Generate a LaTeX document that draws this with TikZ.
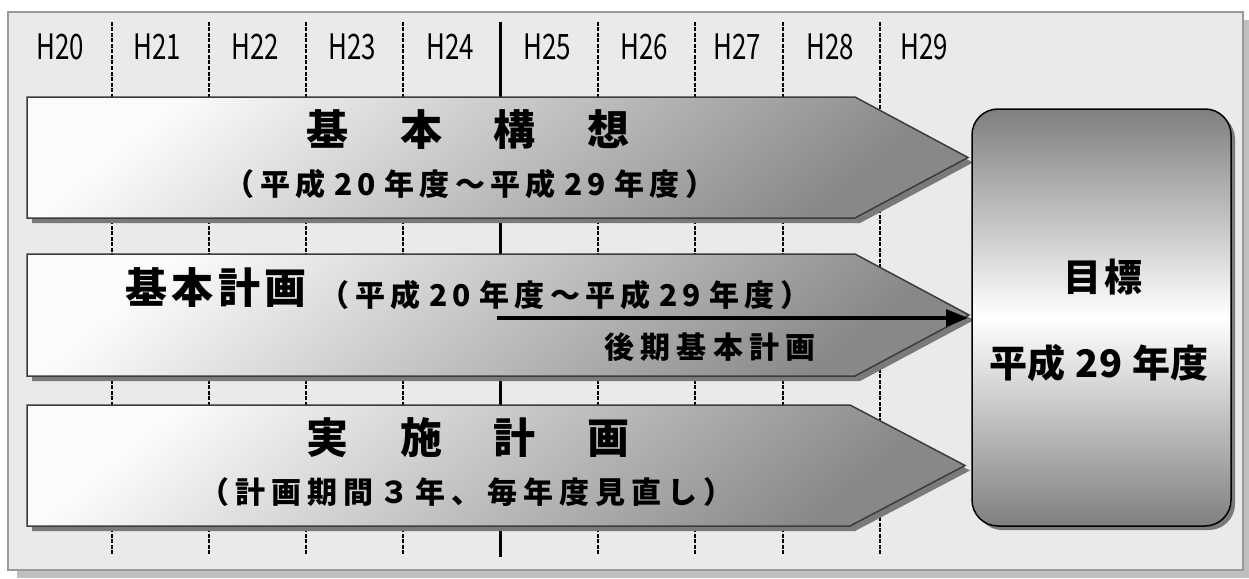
\documentclass[tikz,border=0pt]{standalone}
\usepackage{fontspec}
\newfontfamily\jp{Noto Sans CJK JP}
\newfontfamily\hfont{Noto Sans CJK JP}[FakeStretch=0.74]
\usetikzlibrary{arrows.meta,shadows}
\definecolor{framebg}{HTML}{EAEAEA}
\definecolor{framebd}{HTML}{9A9A9A}
\definecolor{frameshadow}{HTML}{BFBFBF}
\definecolor{bandbd}{HTML}{3C3C3C}
\definecolor{bandlight}{HTML}{FBFBFB}
\definecolor{banddark}{HTML}{888888}
\definecolor{bandshadow}{HTML}{7A7A7A}
\definecolor{goaldark}{HTML}{7F7F7F}
\newcommand\bandshape[4]{(27,#1) -- (#3,#1) -- (#4,{(#1+#2)/2}) -- (#3,#2) -- (27,#2) -- cycle}
\begin{document}
\begin{tikzpicture}[x=1pt,y=-1pt,
  yrlabel/.style={font=\hfont\fontsize{35}{35}\selectfont, inner sep=0pt},
  divider/.style={line width=1.4pt, dash pattern=on 4pt off 1.5pt},
  thickdiv/.style={line width=3pt},
  band/.style={draw=bandbd, line width=1.5pt, shading=axis, top color=bandlight, bottom color=banddark, shading angle=40},
  bshadow/.style={fill=bandshadow},
  bigtitle/.style={font=\jp\bfseries\fontsize{42}{42}\selectfont, inner sep=0pt},
  subtitle/.style={font=\jp\bfseries\fontsize{30}{30}\selectfont\addfontfeatures{LetterSpace=17}, inner sep=0pt},
  goaltext/.style={font=\jp\bfseries\fontsize{38}{38}\selectfont, inner sep=0pt},
  goalbox/.style={draw=black, line width=1.5pt, rounded corners=26pt, top color=goaldark, bottom color=goaldark, middle color=white, minimum width=259pt, minimum height=417pt, inner sep=0pt,
    drop shadow={shadow xshift=4pt, shadow yshift=-4pt, fill=bandshadow, opacity=1}}
]
\useasboundingbox (0,0) rectangle (1249,578);
% outer frame
\fill[frameshadow] (17,20) rectangle (1249,578);
\draw[fill=framebg, draw=framebd, line width=1.5pt] (8,12) rectangle (1243,570);
% dividers
\foreach \x in {112,209,306,403,598,695,783,880}
  \draw[divider] (\x,22) -- (\x,555);
\draw[thickdiv] (500,22) -- (500,557);
% year labels
\foreach \x/\t in {60/H20,157/H21,255/H22,352/H23,450/H24,547/H25,644/H26,737/H27,830/H28,924/H29}
  \node[yrlabel] (lab\t) at (\x,46.5) {\t};
% band 1
\fill[bshadow, shift={(5,5)}] \bandshape{97}{218}{855}{968};
\draw[band] \bandshape{97}{218}{855}{968};
% band 2
\fill[bshadow, shift={(5,5)}] \bandshape{254}{376}{855}{969};
\draw[band] \bandshape{254}{376}{855}{969};
% band 3
\fill[bshadow, shift={(5,5)}] \bandshape{405}{526}{850}{965};
\draw[band] \bandshape{405}{526}{850}{965};
% goal box
\node[goalbox] (goal) at (1101.5,317.5) {};
% texts band 1
\node[bigtitle] (t1) at (468,130) {基\hspace{52pt}本\hspace{52pt}構\hspace{52pt}想};
\node[subtitle] (s1) at (470,184) {（平成\hspace{9pt}20\hspace{9pt}年度～平成\hspace{9pt}29\hspace{9pt}年度）};
% texts band 2
\node[bigtitle, font=\jp\bfseries\fontsize{42}{42}\selectfont\addfontfeatures{LetterSpace=10}] (t2) at (216,288) {基本計画};
\node[subtitle] (s2) at (565,295) {（平成\hspace{9pt}20\hspace{9pt}年度～平成\hspace{9pt}29\hspace{9pt}年度）};
\coordinate (a2start) at (497,318);
\coordinate (a2end) at (968,318);
\draw[line width=3.5pt, -{Triangle[length=22pt,width=17pt]}] (a2start) -- (a2end);
\node[subtitle, font=\jp\bfseries\fontsize{30}{30}\selectfont\addfontfeatures{LetterSpace=21}] (s2b) at (710,347) {後期基本計画};
% texts band 3
\node[bigtitle] (t3) at (468,438) {実\hspace{52pt}施\hspace{52pt}計\hspace{52pt}画};
\node[subtitle, font=\jp\bfseries\fontsize{30}{30}\selectfont\addfontfeatures{LetterSpace=20}] (s3) at (466,492) {（計画期間３年、毎年度見直し）};
% goal texts
\node[goaltext, font=\jp\bfseries\fontsize{38}{38}\selectfont\addfontfeatures{LetterSpace=10}] (g1) at (1103,277) {目標};
\node[goaltext] (g2) at (1099,363) {平成\hspace{10pt}29\hspace{10pt}年度};
\end{tikzpicture}
\end{document}
